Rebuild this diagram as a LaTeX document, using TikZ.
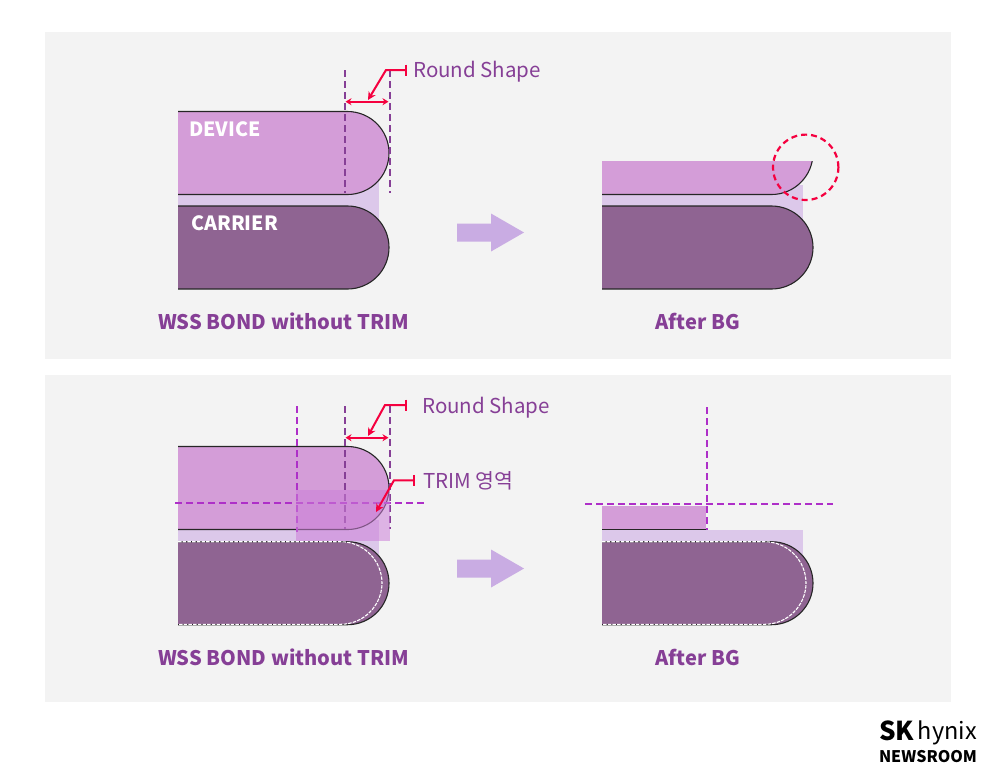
\documentclass[tikz,border=0pt]{standalone}
\usepackage{fontspec}
\setmainfont{Noto Sans CJK KR}
\usetikzlibrary{arrows.meta}
\definecolor{panelgray}{HTML}{F3F3F3}
\definecolor{devicepink}{HTML}{D49DD8}
\definecolor{bandlilac}{HTML}{DCC8EA}
\definecolor{carrierplum}{HTML}{8F6492}
\definecolor{labelpurple}{HTML}{863F96}
\definecolor{markred}{HTML}{F5003F}
\definecolor{trimviolet}{HTML}{AE2FC8}
\definecolor{arrowlilac}{HTML}{C9ACE3}
\definecolor{trimfill}{HTML}{CC7FD8}
\begin{document}
\begin{tikzpicture}[x=1pt,y=-1pt,
    outline/.style={draw=black!85,line width=1.1pt,rounded corners=41.5pt},
    roundcut/.style={labelpurple,line width=2.2pt,dash pattern=on 7pt off 4pt},
    trimcut/.style={trimviolet,line width=2.2pt,dash pattern=on 7pt off 4pt},
    whitecut/.style={white,line width=1.1pt,dash pattern=on 3.5pt off 1.2pt,rounded corners=41.5pt},
    leader/.style={markred,line width=2pt,{Bar[width=11pt,line width=2pt]}-{Stealth[length=8pt,width=8pt]}},
    span/.style={markred,line width=2pt,{Stealth[length=6pt,width=7pt]}-{Stealth[length=6pt,width=7pt]}},
    note/.style={labelpurple,font=\fontsize{20.5}{24}\selectfont,anchor=west,inner sep=0pt},
    title/.style={labelpurple,font=\fontsize{20.1}{24}\selectfont\bfseries,inner sep=0pt},
    layer/.style={white,font=\fontsize{19.6}{24}\selectfont\bfseries,anchor=west,inner sep=0pt}]

            \useasboundingbox (0,0) rectangle (1000,780);
            \fill[white] (0,0) rectangle (1000,780);
            \fill[panelgray] (45,32) rectangle (951,359);
            \fill[panelgray] (45,375) rectangle (951,702);

            \fill[bandlilac] (178,180) rectangle (379,230);
            \fill[bandlilac] (602,185) rectangle (803,225);
            \fill[bandlilac] (178,520) rectangle (379,565);
            \fill[bandlilac] (602,530) rectangle (803,565);

            \foreach \x/\y in {178/206,602/206,178/541.7,602/541.7} {
                \draw[outline,fill=carrierplum] (\x,\y) -- (\x+211,\y) -- (\x+211,\y+83) -- (\x,\y+83);
            }

            \draw[outline,fill=devicepink] (178,111.5) -- (389,111.5) -- (389,194.5) -- (178,194.5);
            \draw[outline,fill=devicepink] (178,446.5) -- (389,446.5) -- (389,529.5) -- (178,529.5);
            \begin{scope}
                \clip (602,161) rectangle (830,200);
                \draw[outline,fill=devicepink] (602,111.5) -- (813,111.5) -- (813,194.5) -- (602,194.5);
            \end{scope}
            \fill[devicepink] (602,506) rectangle (706,529);
            \draw[black!85,line width=1.1pt] (602,529.3) -- (706,529.3);

            \foreach \x in {178,602} {
                \draw[whitecut] (\x,541.7) -- (\x+204,541.7) -- (\x+204,624.3) -- (\x,624.3);
            }

            \draw[roundcut] (345,70) -- (345,193);
            \draw[roundcut] (390,70) -- (390,193);
            \draw[roundcut] (345,406) -- (345,529);
            \draw[roundcut] (390,406) -- (390,529);
            \draw[trimcut] (297,406) -- (297,532);
            \draw[trimcut] (175,503) -- (424,503);
            \fill[trimfill,opacity=0.55] (296,490) rectangle (390,541);
            \draw[trimcut] (707,407) -- (707,530);
            \draw[trimcut] (585,503.7) -- (833,503.7);

            \foreach \y/\name in {232.5/top,568.5/bottom} {
                \fill[arrowlilac] (457,\y-9) -- (491,\y-9) -- (491,\y-19) -- (524,\y) -- (491,\y+19) -- (491,\y+9) -- (457,\y+9) -- cycle;
            }

            \draw[markred,line width=2.2pt,dash pattern=on 6pt off 4pt] (805.7,167.3) circle[radius=32.7pt];

            \coordinate (topbar) at (407,70);
            \coordinate (topbend) at (386,70);
            \coordinate (toptip) at (368,100);
            \coordinate (topleft) at (345.5,101.7);
            \coordinate (topright) at (388.5,101.7);
            \coordinate (lowbar) at (407,405);
            \coordinate (lowbend) at (385,405);
            \coordinate (lowtip) at (368,436);
            \coordinate (lowleft) at (345.5,437.7);
            \coordinate (lowright) at (388.5,437.7);
            \coordinate (trimbar) at (415,480.3);
            \coordinate (trimbend) at (394,480.3);
            \coordinate (trimtip) at (376,512);
            \draw[leader] (topbar) -- (topbend) -- (toptip);
            \draw[span] (topleft) -- (topright);
            \draw[leader] (lowbar) -- (lowbend) -- (lowtip);
            \draw[span] (lowleft) -- (lowright);
            \draw[leader] (trimbar) -- (trimbend) -- (trimtip);

            \node[layer] (device) at (189,129) {DEVICE};
            \node[layer] (carrier) at (191,223) {CARRIER};
            \node[note] (roundtop) at (413,71.5) {Round Shape};
            \node[note] (roundlow) at (422,407.5) {Round Shape};
            \node[note] (trimnote) at (423,480.5) {TRIM 영역};
            \node[title] (withouttop) at (283.5,321) {WSS BOND without TRIM};
            \node[title] (aftertop) at (698,321) {After BG};
            \node[title] (withoutlow) at (283.5,657) {WSS BOND without TRIM};
            \node[title] (afterlow) at (698,657) {After BG};

            \node[anchor=west,inner sep=0pt,font=\fontsize{26}{30}\selectfont\bfseries] (sk) at (879,731) {SK};
            \node[anchor=east,inner sep=0pt,font=\fontsize{23.5}{30}\selectfont] (hynix) at (977,733) {hynix};
            \node[anchor=center,inner sep=0pt,font=\fontsize{16}{18}\selectfont\bfseries] (newsroom) at (928,757) {NEWSROOM};
\end{tikzpicture}
\end{document}
